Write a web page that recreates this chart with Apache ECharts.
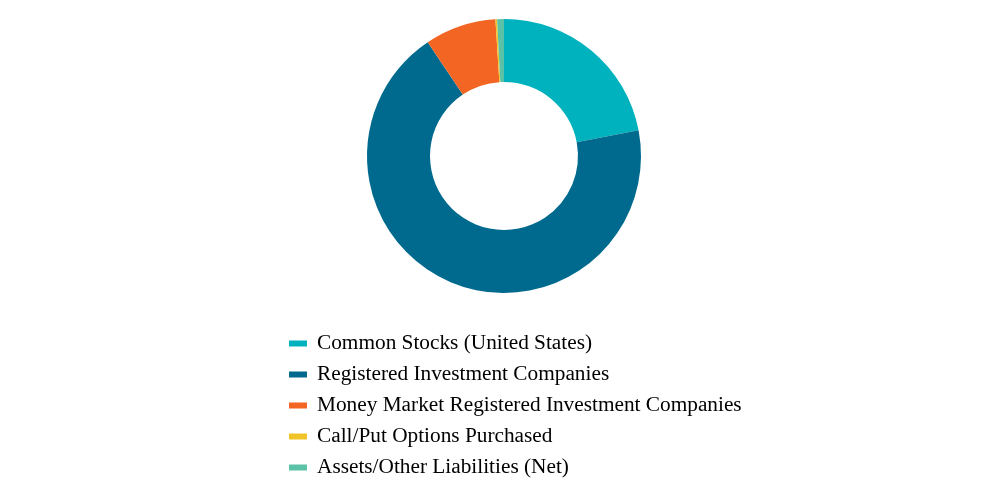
<!DOCTYPE html>
<html>
<head>
<meta charset="utf-8">
<script src="https://cdn.jsdelivr.net/npm/echarts@6/dist/echarts.min.js"></script>
<style>
  html, body { margin: 0; padding: 0; background: #fff; }
  #main { width: 1008px; height: 480px; }
</style>
</head>
<body>
<div id="main"></div>
<script>
// holdings breakdown, percent of net assets
var categories = [
  'Common Stocks (United States)',
  'Registered Investment Companies',
  'Money Market Registered Investment Companies',
  'Call/Put Options Purchased',
  'Assets/Other Liabilities (Net)'
];
var values = [22.0, 68.6, 8.4, 0.2, 0.8];
var colors = ['#00b2bd', '#006a8e', '#f26522', '#f0c428', '#5cc2a7'];

var chart = echarts.init(document.getElementById('main'));
var data = categories.map(function (name, i) {
  return { name: name, value: values[i], itemStyle: { color: colors[i] } };
});

chart.setOption({
  animation: false,
  legend: {
    orient: 'vertical',
    left: 284,
    top: 328,
    height: 200,
    itemWidth: 18,
    itemHeight: 6,
    itemGap: 10,
    icon: 'rect',
    textStyle: { fontFamily: 'Liberation Serif', fontSize: 21.3, color: '#000', padding: [0, 0, 0, 5] },
    data: categories
  },
  series: [{
    type: 'pie',
    center: [504, 156],
    radius: [74, 137],
    startAngle: 90,
    clockwise: true,
    label: { show: false },
    labelLine: { show: false },
    itemStyle: { borderWidth: 0 },
    emphasis: { disabled: true },
    data: data
  }]
});
</script>
</body>
</html>
